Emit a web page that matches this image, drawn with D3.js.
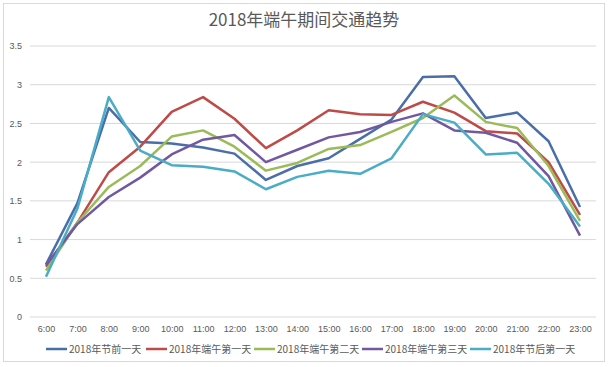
<!DOCTYPE html>
<html><head><meta charset="utf-8">
<script src="https://cdn.jsdelivr.net/npm/d3@7"></script>
<style>body{margin:0;background:#fff;}svg{display:block;}</style>
</head><body>
<svg id="c" width="609" height="367"></svg>
<script>
const hours = ["6:00","7:00","8:00","9:00","10:00","11:00","12:00","13:00","14:00","15:00","16:00","17:00","18:00","19:00","20:00","21:00","22:00","23:00"];
const seriesNames = ["2018年节前一天","2018年端午第一天","2018年端午第二天","2018年端午第三天","2018年节后第一天"];
const preHoliday = [0.68,1.47,2.70,2.26,2.24,2.19,2.11,1.77,1.95,2.05,2.30,2.55,3.10,3.11,2.57,2.64,2.27,1.42];
const day1 = [0.65,1.22,1.87,2.20,2.65,2.84,2.56,2.18,2.41,2.67,2.62,2.61,2.78,2.64,2.40,2.37,2.00,1.32];
const day2 = [0.60,1.22,1.68,1.95,2.33,2.41,2.20,1.89,1.99,2.17,2.22,2.39,2.57,2.86,2.52,2.44,1.95,1.24];
const day3 = [0.67,1.20,1.55,1.80,2.10,2.29,2.35,2.00,2.16,2.32,2.39,2.52,2.63,2.41,2.38,2.25,1.82,1.05];
const postHoliday = [0.52,1.40,2.84,2.15,1.96,1.94,1.88,1.65,1.81,1.89,1.85,2.05,2.62,2.51,2.10,2.12,1.72,1.17];
const yTicks = [0,0.5,1,1.5,2,2.5,3,3.5];
const colors = ["#4A6EA9","#BE4B48","#9BBB59","#7059A0","#4BACC6"];
const allSeries = [preHoliday, day1, day2, day3, postHoliday];

const svg = d3.select("#c");
svg.append("rect").attr("x",3.5).attr("y",3.5).attr("width",601).attr("height",358)
  .attr("fill","#fff").attr("stroke","#d9d9d9");

svg.append("text").attr("x",304).attr("y",26).attr("text-anchor","middle")
  .attr("font-family","'Noto Sans CJK SC', 'Noto Sans', sans-serif").attr("font-size",17)
  .attr("fill","#595959").text("2018年端午期间交通趋势");

const x = d3.scalePoint().domain(hours).range([46,580]);
const y = d3.scaleLinear().domain([0,3.5]).range([317,46]);

const grid = svg.append("g");
grid.selectAll("line").data(yTicks).join("line")
  .attr("x1",30).attr("x2",596).attr("y1",d=>y(d)).attr("y2",d=>y(d))
  .attr("stroke","#d9d9d9").attr("stroke-width",1);

const yAxis = svg.append("g").attr("transform","translate(22,0)")
  .call(d3.axisLeft(y).tickValues(yTicks).tickSize(0).tickPadding(0).tickFormat(d=>String(d)));
yAxis.select(".domain").remove();
yAxis.selectAll("text").attr("font-family","'Liberation Sans', sans-serif").attr("font-size",9).attr("fill","#595959");

const xAxis = svg.append("g").attr("transform","translate(0,322)")
  .call(d3.axisBottom(x).tickSize(0).tickPadding(4));
xAxis.select(".domain").remove();
xAxis.selectAll("text").attr("font-family","'Liberation Sans', sans-serif").attr("font-size",9).attr("fill","#595959");

const line = d3.line().x((d,i)=>x(hours[i])).y(d=>y(d));
svg.append("g").selectAll("path").data(allSeries).join("path")
  .attr("d",line).attr("fill","none").attr("stroke",(d,i)=>colors[i])
  .attr("stroke-width",2.5).attr("stroke-linejoin","round");

const legX = [46,146,254,362,470];
const leg = svg.append("g").selectAll("g").data(seriesNames).join("g")
  .attr("transform",(d,i)=>`translate(${legX[i]},349)`);
leg.append("line").attr("x1",0).attr("x2",21).attr("y1",0).attr("y2",0)
  .attr("stroke",(d,i)=>colors[i]).attr("stroke-width",2.5);
leg.append("text").attr("x",23).attr("y",4).attr("font-family","'Noto Sans CJK SC', sans-serif")
  .attr("font-size",10).attr("fill","#595959").text(d=>d);
</script>
</body></html>
